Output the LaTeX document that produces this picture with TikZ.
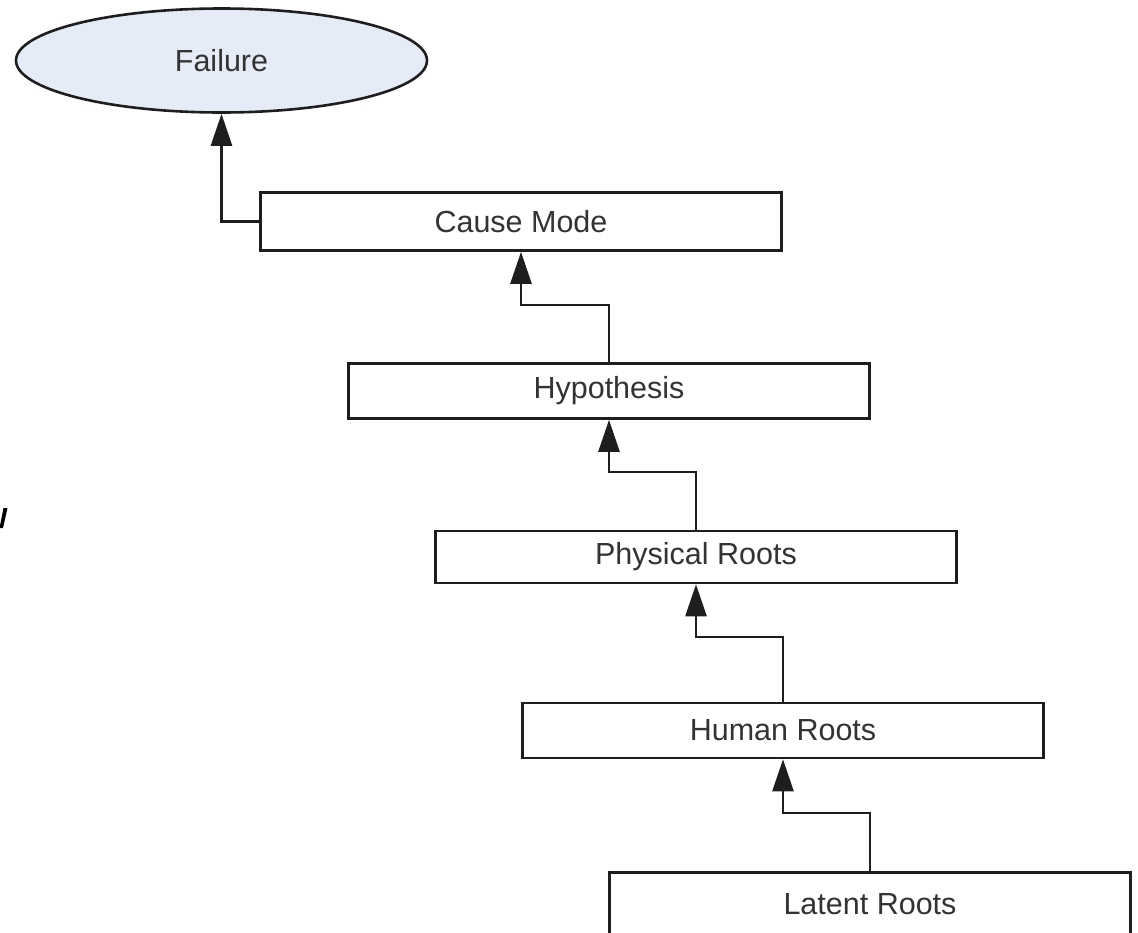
\documentclass[tikz,border=0pt]{standalone}
\usepackage{fontspec}
\setmainfont{Liberation Sans}
\usetikzlibrary{arrows.meta,shapes.geometric}
\definecolor{failfill}{HTML}{E6ECF7}
\definecolor{inktext}{HTML}{333333}
\definecolor{ink}{HTML}{1E1E1E}
\begin{document}
\begin{tikzpicture}[x=1pt,y=-1pt,
  labelfont/.style={text=inktext, font=\fontsize{30.5}{36}\selectfont},
  rootbox/.style={draw=ink, line width=2.6pt, fill=white, minimum width=521pt,
    minimum height=56pt, inner sep=0pt, labelfont},
  conn/.style={draw=ink, line width=2.6pt, -{Triangle[length=32pt,width=21pt]}}]
\useasboundingbox (0,0) rectangle (1138,932);

% top event
\node[ellipse, draw=ink, line width=2.6pt, fill=failfill, minimum width=411pt,
  minimum height=104pt, inner sep=0pt, labelfont] (failure) at (221.5,60.5) {Failure};

% cause chain, staircase to the lower right
\node[rootbox, minimum height=58pt] (cause)  at (521,221.5) {Cause Mode};
\node[rootbox, minimum height=55pt] (hyp)    at (609,391)   {Hypothesis};
\node[rootbox, minimum height=52pt] (phys)   at (696,557)   {Physical Roots};
\node[rootbox, minimum height=55pt] (human)  at (783,730.5) {Human Roots};
\node[rootbox, minimum height=63pt] (latent) at (870,904)   {Latent Roots};

% heights of the horizontal runs between levels
\coordinate (b1) at (0,305);
\coordinate (b2) at (0,472);
\coordinate (b3) at (0,637);
\coordinate (b4) at (0,813);

\draw[conn] (cause.west) -| (failure.south);
\draw[conn] (hyp.north) -- (hyp.north |- b1) -| (cause.south);
\draw[conn] (phys.north) -- (phys.north |- b2) -| (hyp.south);
\draw[conn] (human.north) -- (human.north |- b3) -| (phys.south);
\draw[conn] (latent.north) -- (latent.north |- b4) -| (human.south);

% slanted stroke at the left edge
\fill[black] (3.5,508) -- (7.5,508) -- (3,528) -- (-0.5,528) -- cycle;
\end{tikzpicture}
\end{document}
